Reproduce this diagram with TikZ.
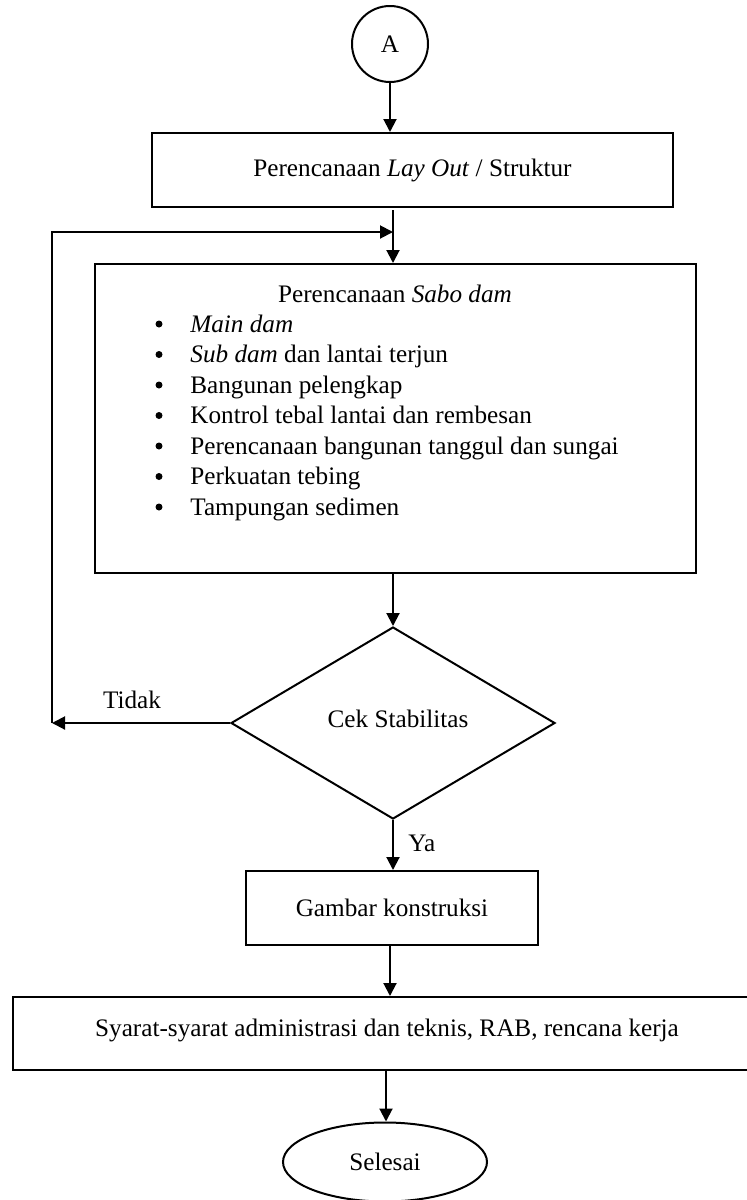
\documentclass[tikz,border=0pt]{standalone}
\usepackage{fontspec}
\setmainfont{Liberation Serif}
\usetikzlibrary{arrows.meta,shapes.geometric}
\begin{document}
\begin{tikzpicture}[x=0.5pt,y=-0.5pt,
  every node/.style={font=\fontsize{12.6}{15}\selectfont},
  line/.style={line width=1pt},
  arr/.style={line width=1pt,-{Triangle[width=6.5pt,length=6.5pt]}},
  boxnode/.style={draw,line width=1pt,rectangle,inner sep=0pt},
  lbl/.style={inner sep=0pt}]
\useasboundingbox (0,0) rectangle (747,1200);
% nodes
\node[draw,line width=1pt,circle,minimum size=38pt,inner sep=0pt] (A) at (390,44) {A};
\node[boxnode,minimum width=260.5pt,minimum height=37pt] (r1) at (412.5,170) {Perencanaan \textit{Lay Out} / Struktur};
\node[boxnode,minimum width=300.5pt,minimum height=154.5pt] (main) at (395.5,418.5) {};
\node[lbl,anchor=base] (mh) at (395,302) {Perencanaan \textit{Sabo dam}};
\foreach \t [count=\i from 0] in {\textit{Main dam},\textit{Sub dam} dan lantai terjun,Bangunan pelengkap,Kontrol tebal lantai dan rembesan,Perencanaan bangunan tanggul dan sungai,Perkuatan tebing,Tampungan sedimen}{
  \node[lbl,anchor=base west] (it\i) at (190,332+30.5*\i) {\t};
  \fill (159,324+30.5*\i) circle (3.5);
}
\node[draw,line width=1pt,diamond,minimum width=162pt,minimum height=96pt,inner sep=0pt] (d) at (393,723) {};
\node[lbl] (dt) at (398,719) {Cek Stabilitas};
\node[lbl] (tidak) at (132,700) {Tidak};
\node[lbl,anchor=west] (ya) at (408,843) {Ya};
\node[boxnode,minimum width=146pt,minimum height=37pt] (g) at (392,908) {Gambar konstruksi};
\node[boxnode,minimum width=368.5pt,minimum height=36.5pt] (s) at (381.5,1033.5) {};
\node[lbl] (st) at (387,1030) {Syarat-syarat administrasi dan teknis, RAB, rencana kerja};
\node[draw,line width=1pt,ellipse,minimum width=102pt,minimum height=39.5pt,inner sep=0pt] (e) at (385,1162) {Selesai};
% coordinates
\coordinate (j) at (393,232);
\coordinate (c1) at (52,723);
% connectors
\draw[arr] (A) -- (A |- r1.north);
\draw[line] (393,210) -- (j);
\draw[arr] (j) -- (j |- main.north);
\draw[arr] (d.north |- main.south) -- (d.north);
\draw[arr] (d.west) -- (c1);
\draw[arr] (c1) |- (j);
\draw[arr] (d.south) -- (d.south |- g.north);
\draw[arr] (g.south -| 390,0) -- (s.north -| 390,0);
\draw[arr] (s.south -| 386,0) -- (e.north -| 386,0);
\end{tikzpicture}
\end{document}
